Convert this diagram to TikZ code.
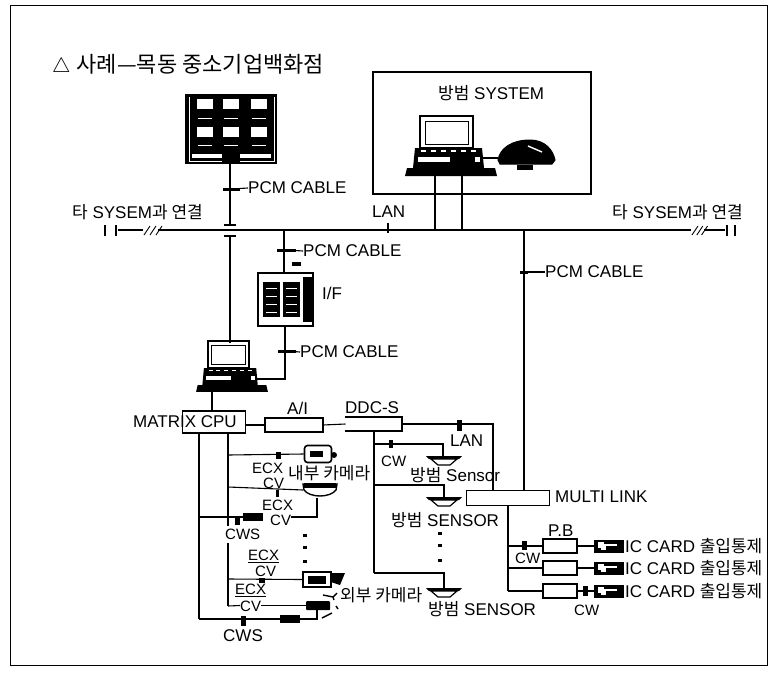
\documentclass[tikz,border=0pt]{standalone}
\usepackage{fontspec}
\setmainfont{Liberation Sans}
\newfontfamily\kor{Noto Sans CJK KR}
\tikzset{
    lab/.style={inner sep=0pt, anchor=west, font=\fontsize{17}{19}\selectfont},
    lab small/.style={lab, font=\fontsize{15}{17}\selectfont},
    wire/.style={line width=1.1pt},
    unit/.style={draw, line width=1.4pt, fill=white, inner sep=0pt, outer sep=0pt},
    tick/.style={fill=black, inner sep=0pt, outer sep=0pt, minimum width=4pt, minimum height=9pt},
    reader/.style={fill=black, inner sep=0pt, outer sep=0pt, minimum width=30pt, minimum height=13pt},
    filter/.style={fill=black, inner sep=0pt, outer sep=0pt, minimum width=20pt, minimum height=8pt},
    dot/.style={fill=black, inner sep=0pt, outer sep=0pt, minimum width=3.5pt, minimum height=3pt},
    computer/.pic={
        \draw[line width=2pt, fill=white] (-31,-32) rectangle (22,0);
        \draw[line width=1pt] (-26,-27) rectangle (17,-4);
        \fill (-36,0) -- (31,0) -- (33,20) -- (-38,20) -- cycle;
        \fill[white] (-33,9) rectangle (-1,14);
        \fill[white] (24,9) rectangle (29,14);
        \foreach \k in {-30,-20,...,20} { \fill[white] (\k,2) rectangle ++(5,1.5); }
        \fill (-44,20) -- (44,20) -- (46,28) -- (-46,28) -- cycle;
    },
    sensor/.pic={
        \fill (-18,0) -- (18,0) -- (15,3) -- (-15,3) -- cycle;
        \draw[line width=1.2pt, fill=white] (-13,3) -- (13,3) -- (6,9) -- (-6,9) -- cycle;
    }
}
\begin{document}
\begin{tikzpicture}[x=1pt, y=-1pt]
        \useasboundingbox (0,0) rectangle (773,672);
        \fill[white] (0,0) rectangle (773,672);
        \draw[line width=0.9pt] (10,5) rectangle (767,665);

        % --- 1. Title ---
        \node[lab, font=\fontsize{22}{24}\selectfont] (title) at (52,65) {$\bigtriangleup$ {\kor 사례—목동 중소기업백화점}};

        % --- 2. Monitor wall ---
        \node[fill=black, inner sep=0pt, outer sep=0pt, minimum width=92pt, minimum height=70pt] (wall) at (231,129) {};
        \foreach \c in {205,231,259} {
            \foreach \r in {104,132} {
                \node[fill=white, inner sep=0pt, minimum width=16pt, minimum height=10pt] (scr\c\r) at (\c,\r) {};
            }
            \draw[white, line width=0.5pt] (\c-7,118) -- (\c+7,118) (\c-7,145) -- (\c+7,145);
        }
        \draw[white, line width=1pt] (189,97) -- (189,161) -- (222,161) (274,97) -- (274,161) -- (240,161);
        \fill[white] (192,154) rectangle (222,158);
        \fill[white] (240,154) rectangle (271,158);

        % --- 3. Main bus ---
        \coordinate (leftend) at (118,230);
        \coordinate (rightend) at (725,230);
        \draw[wire] (leftend) -- (rightend);
        \fill[white] (143,226) rectangle (158,234);
        \fill[white] (691,226) rectangle (704,234);
        \foreach \k in {0,6,12} {
            \draw[line width=0.9pt] (144+\k,235) -- (150+\k,226);
            \draw[line width=0.9pt] (692+\k*0.8,235) -- (698+\k*0.8,226);
        }
        \draw[line width=2pt] (105,225) -- (105,236) (116,225) -- (116,236);
        \draw[line width=2pt] (727,225) -- (727,236) (735,225) -- (735,236);
        \node[lab] (toleft) at (72,212) {{\kor 타} SYSEM{\kor 과 연결}};
        \node[lab] (toright) at (612,212) {{\kor 타} SYSEM{\kor 과 연결}};
        \node[lab] (lanbus) at (372,212) {LAN};
        \node[tick, minimum width=2.5pt, minimum height=10pt] (lantick) at (388,228) {};

        % --- 4. Wall feed and first computer ---
        \coordinate (crossup) at (230,225);
        \coordinate (crossdn) at (230,236);
        \node[tick, minimum width=17pt, minimum height=3pt] (walltick) at (231,189) {};
        \node[lab] (wallcable) at (248,188) {PCM CABLE};
        \pic at (232,368) [xscale=.78, yscale=.85] {computer};
        \coordinate (cputop) at (230,343);
        \draw[wire] (wall.south -| crossup) -- (crossup);
        \draw[wire] (crossdn) -- (cputop);
        \draw[line width=1.3pt] (224,225) -- (236,225) (224,236) -- (236,236);
        \draw[wire] (walltick) -- (wallcable.west);

        % --- 5. I/F cabinet ---
        \node[unit, line width=2pt, minimum width=55pt, minimum height=53pt] (iface) at (285,299) {};
        \fill (263,282) rectangle (280,317);
        \fill (283,282) rectangle (300,317);
        \fill (303,277) rectangle (313,322);
        \foreach \k in {288,296,304,312} {
            \draw[white, line width=0.7pt] (266,\k) -- (277,\k) (286,\k) -- (297,\k);
        }
        \node[lab] (ifacelab) at (322,293) {I/F};
        \coordinate (ifaceup) at (284,230);
        \node[tick, minimum width=19pt, minimum height=3pt] (ifacetick) at (286,250) {};
        \node[lab] (ifacecable) at (303,251) {PCM CABLE};
        \node[fill=black, inner sep=0pt, minimum width=9pt, minimum height=4pt] (ifaceled) at (296,264) {};
        \draw[wire] (ifaceup) -- (iface.north -| ifaceup);
        \draw[wire] (ifacetick) -- (ifacecable.west);
        \coordinate (cpuport) at (257,379);
        \coordinate (ifacebend) at (285,379);
        \node[tick, minimum width=18pt, minimum height=3pt] (cputick) at (287,351) {};
        \node[lab] (cpucable) at (300,352) {PCM CABLE};
        \draw[wire] (iface.south -| ifacebend) -- (ifacebend) -- (cpuport);
        \draw[wire] (cputick) -- (cpucable.west);

        % --- 6. Security system box ---
        \node[draw, line width=1.1pt, inner sep=0pt, minimum width=218pt, minimum height=122pt] (secbox) at (482,133) {};
        \node[lab] (seclab) at (438,93) {{\kor 방범} SYSTEM};
        \pic at (451,148) {computer};
        \fill (517,165) rectangle (533,170);
        \draw[line width=1pt, fill=black] (498,160) .. controls (500,148) and (512,140) .. (530,140) .. controls (545,140) and (553,150) .. (555,160) -- (552,164) -- (500,164) -- cycle;
        \draw[white, line width=1.4pt] (528,146) -- (542,152);
        \coordinate (secport) at (482,158);
        \coordinate (prnport) at (498,158);
        \draw[wire] (secport) -- (prnport);
        \coordinate (secl) at (435,176);
        \coordinate (secr) at (462,176);
        \draw[wire] (secl) -- (435,230) (secr) -- (462,230);

        % --- 7. MATRIX CPU, A/I, DDC-S ---
        \node[unit, minimum width=63pt, minimum height=22pt] (matrix) at (214,422) {};
        \node[lab] (matrixlab) at (133,422) {MATRIX CPU};
        \node[unit, minimum width=58pt, minimum height=14pt] (ai) at (294,425) {};
        \node[lab] (ailab) at (287,408) {A/I};
        \node[unit, minimum width=57pt, minimum height=14pt, draw=none] (ddc) at (374,424) {};
        \draw[line width=1.6pt] (345,417) -- (402,417) -- (402,431) -- (345,431);
        \node[lab] (ddclab) at (345,408) {DDC-S};
        \coordinate (kbout) at (212,392);
        \draw[wire] (kbout) -- (matrix.north -| kbout);
        \draw[wire] (matrix.east |- ai) -- (ai.west);
        \draw[wire] (ai.east) -- (ddc.west);

        % --- 8. Sensors ---
        \coordinate (ddcdown) at (374,431);
        \coordinate (senbot) at (374,573);
        \draw[wire] (ddcdown) -- (senbot);
        \pic at (444,456) {sensor};
        \pic at (444,497) {sensor};
        \pic at (444,588) {sensor};
        \draw[wire] (374,444) -- (443,444) -- (443,456);
        \draw[wire] (374,485) -- (444,485) -- (444,497);
        \draw[wire] (senbot) -- (444,573) -- (444,588);
        \node[tick, minimum width=3.5pt, minimum height=8pt] (sentick) at (391,444) {};
        \node[lab small] (sencw) at (381,461) {CW};
        \node[lab] (senlaba) at (410,475) {{\kor 방범} Sensor};
        \node[lab] (senlabb) at (391,520) {{\kor 방범} SENSOR};
        \node[lab] (senlabc) at (428,609) {{\kor 방범} SENSOR};
        \foreach \k in {533,545,560} { \node[dot] (sdot\k) at (440,\k) {}; }

        % --- 9. MULTI LINK and card readers ---
        \node[unit, minimum width=83pt, minimum height=15pt] (mlink) at (508,498) {};
        \node[lab] (mlinklab) at (555,497) {MULTI LINK};
        \coordinate (rightup) at (524,230);
        \coordinate (rightdn) at (493,424);
        \node[tick, minimum width=8pt, minimum height=3pt] (righttick) at (524,272) {};
        \node[lab] (rightcable) at (545,272) {PCM CABLE};
        \draw[wire] (rightup) -- (mlink.north -| rightup);
        \draw[wire] (righttick) -- (rightcable.west);
        \node[tick, minimum width=5pt, minimum height=11pt] (lantickb) at (459,425) {};
        \node[lab] (lanlab) at (450,441) {LAN};
        \draw[wire] (ddc.east |- rightdn) -- (rightdn) -- (mlink.north -| rightdn);
        \coordinate (mldown) at (508,505);
        \foreach \n/\y in {a/546,b/568,c/591} {
            \node[unit, minimum width=34pt, minimum height=14pt] (pb\n) at (560,\y) {};
            \node[reader] (rd\n) at (609,\y) {};
            \draw[white, line width=1.1pt] (rd\n.center) ++(-8,3) -- ++(4,0) -- ++(0,-4) -- ++(12,0);
            \fill[white] (rd\n.center) ++(-11,-4) rectangle ++(6,6);
            \node[lab] (card\n) at (625,\y) {IC CARD {\kor 출입통제}};
            \draw[wire] (pb\n.east) -- (rd\n.west);
            \draw[wire] (mldown |- pb\n) -- (pb\n.west);
        }
        \draw[wire] (mldown) -- (mldown |- pbc);
        \node[lab] (pblab) at (548,531) {P.B};
        \node[tick, minimum width=5pt, minimum height=9pt] (cwtick) at (524,545) {};
        \node[lab small] (cwlab) at (515,558) {CW};
        \node[tick, minimum width=5pt, minimum height=10pt] (cwtickb) at (585,591) {};
        \node[lab small] (cwlabb) at (574,610) {CW};

        % --- 10. Cameras ---
        \coordinate (mata) at (199,433);
        \coordinate (mataend) at (199,619);
        \coordinate (matb) at (228,433);
        \draw[wire] (mata) -- (mataend);
        \draw[wire] (matb) -- (228,526);
        \draw[wire] (228,543) -- (228,606);

        % inside camera
        \node[draw, line width=1.6pt, rounded corners=3pt, inner sep=0pt, minimum width=27pt, minimum height=17pt] (cama) at (318,454) {};
        \node[fill=black, draw=black, inner sep=0pt, minimum width=12pt, minimum height=5pt] (camacore) at (316,454) {};
        \fill (334,455) circle (3pt);
        \draw[wire] (228,455) -- (cama.west);
        \node[tick, minimum width=5pt, minimum height=7pt] (camatick) at (278,455) {};
        \node[lab small] (ecxa) at (252,468) {ECX};
        \node[lab] (innerlab) at (288,473) {{\kor 내부 카메라}};
        \node[lab small] (cva) at (263,483) {CV};

        \draw[line width=1.4pt, fill=white] (303,484) -- (337,484) -- (336,490) .. controls (330,498) and (310,498) .. (304,490) -- cycle;
        \fill (304,483) rectangle (336,488);
        \node[inner sep=0pt, outer sep=0pt, minimum width=34pt, minimum height=12pt] (camb) at (320,490) {};
        \draw[wire] (228,487) -- (camb.west);
        \node[tick, minimum width=3pt, minimum height=7pt] (cambtick) at (277,493) {};
        \node[lab small] (ecxb) at (262,505) {ECX};
        \node[lab small] (cvb) at (270,520) {CV};

        \node[filter] (cwsbox) at (253,517) {};
        \node[tick, minimum width=5pt, minimum height=8pt] (cwstick) at (237,521) {};
        \node[lab small] (cwslab) at (225,534) {CWS};
        \coordinate (camblow) at (317,498);
        \draw[wire] (mata |- cwsbox) -- (cwsbox.west);
        \draw[wire] (cvb.east |- cwsbox) -- (317,517) -- (camblow);

        \foreach \k in {535,547,561} { \node[dot] (cdot\k) at (305,\k) {}; }

        \node[lab small] (ecxc) at (248,556) {\underline{ECX}};
        \node[lab small] (cvc) at (255,571) {CV};
        \node[unit, line width=2pt, minimum width=28pt, minimum height=15pt] (camc) at (317,579.5) {};
        \fill (308,576) rectangle (326,584);
        \fill (331,573) -- (345,573) -- (340,585) -- (331,582) -- cycle;
        \draw[wire] (228,579) -- (camc.west);
        \node[dot, minimum width=6pt, minimum height=5pt] (camcdot) at (262,580) {};

        % outside camera
        \node[lab small] (ecxd) at (235,590) {\underline{ECX}};
        \node[lab small] (cvd) at (240,606) {CV};
        \node[fill=black, inner sep=0pt, outer sep=0pt, rounded corners=1pt, minimum width=24pt, minimum height=9pt] (camd) at (318,605.5) {};
        \fill (330,602) -- (330,610) -- (325,610) -- (325,602) -- cycle;
        \draw[wire] (228,606) -- (cvd.west |- camd);
        \draw[wire] (cvd.east |- camd) -- (camd.west);
        \draw[line width=1.4pt] (323,595) -- (333,597) -- (337,593) (333,597) -- (334,600);
        \draw[line width=1.4pt] (336,606) -- (338,609) (322,618) -- (332,613);
        \node[lab] (outerlab) at (340,595) {{\kor 외부 카메라}};
        \node[filter] (cwsboxb) at (290,619) {};
        \node[tick, minimum width=5pt, minimum height=10pt] (cwstickc) at (243,621) {};
        \node[lab] (cwslabb) at (223,636) {CWS};
        \coordinate (camdlow) at (317,610);
        \draw[wire] (mataend) -- (cwsboxb.west);
        \draw[wire] (cwsboxb.east) -- (camdlow |- cwsboxb) -- (camdlow);

    \end{tikzpicture}
\end{document}
